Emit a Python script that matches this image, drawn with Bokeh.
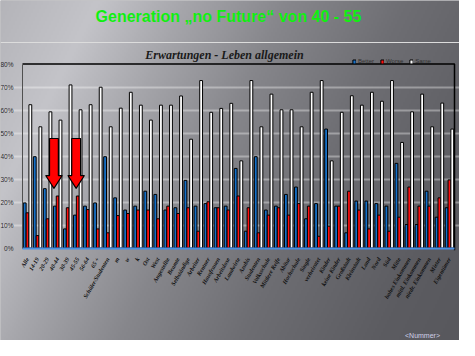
import math
import numpy as np
from bokeh.plotting import figure
from bokeh.models import (Range1d, FixedTicker, NumeralTickFormatter, Label,
                          Legend, LegendItem, ColumnDataSource)
from bokeh.transform import dodge
from bokeh.embed import file_html
from bokeh.resources import INLINE

# ---------------- data ----------------
categories = [
    "Alle", "14-19", "20-29", "40-44", "30-39", "45-55", "56-64", "65 +",
    "Schüler/Studenten", "m", "w", "k", "Ost", "West", "Angestellte",
    "Beamte", "Selbständige", "Arbeiter", "Rentner", "Hausfrauen",
    "Arbeitslose", "Landwirte", "Azubis", "Studenten", "Volksschule",
    "Mittlere Reife", "Abitur", "Hochschule", "Single", "verheiratet",
    "Kinder", "keine Kinder", "Großstadt", "Kleinstadt", "Land", "Nord",
    "Süd", "Mitte", "hohes Einkommen", "mittl. Einkommen",
    "niedr. Einkommen", "Mieter", "Eigentümer",
]
better = [19.6, 39.7, 25.8, 18.2, 8.3, 14.3, 18.2, 19.6, 39.7, 21.8,
          16.5, 18.2, 24.7, 23.3, 16.5, 17.5, 29.4, 18.2, 19.3, 17.5,
          18.2, 34.6, 7.3, 39.7, 16.5, 18.2, 23.3, 26.5, 12.7, 19.3,
          51.7, 18.2, 6.6, 20.4, 20.4, 19.3, 18.2, 36.8, 10.2, 10.2,
          24.7, 13.4, 17.5]
worse = [15.3, 5.4, 12.7, 22.6, 17.5, 22.6, 16.7, 8.3, 6.6, 14.1,
         15.0, 16.5, 16.5, 12.7, 18.2, 15.0, 17.5, 7.3, 20.1, 17.5,
         16.5, 22.6, 17.5, 6.6, 14.3, 17.5, 14.3, 19.3, 18.2, 5.1,
         9.5, 18.2, 24.7, 16.5, 8.3, 14.3, 7.3, 13.4, 26.5, 18.2,
         18.2, 21.8, 29.6]
same = [62.3, 52.7, 59.2, 55.6, 70.9, 60.1, 62.3, 69.9, 52.7, 60.8,
        67.7, 62.1, 55.6, 62.1, 62.1, 66.1, 47.3, 72.8, 59.0, 60.7,
        62.9, 37.9, 72.8, 52.7, 66.9, 60.1, 60.1, 52.7, 67.7, 72.8,
        37.9, 59.0, 66.2, 62.1, 67.7, 63.8, 72.8, 45.9, 59.2, 66.9,
        52.7, 63.0, 51.7]
series_names = ["Better", "Worse", "Same"]
y_ticks = [0, 10, 20, 30, 40, 50, 60, 70, 80]
main_title = "Generation \u201eno Future\u201c von 40 - 55"
chart_title = "Erwartungen - Leben allgemein"
footer_text = "<Nummer>"
arrow_groups = [3, 5]          # groups the red arrows point at

# ---------------- layout (page pixels of the reference) ----------------
W, H = 459, 340
OFF = 8
PLOT_L, PLOT_R = 30.0, 462.0
Y0, YTOP = 255.5, 71.5
N = len(categories)
ppx = (PLOT_R - PLOT_L) / N
ppy = (Y0 - YTOP) / 0.8


def px2x(px):
    return (px - PLOT_L) / ppx


def py2y(py):
    return (Y0 - py) / ppy


x_range = Range1d(px2x(OFF), px2x(OFF + W))
y_range = Range1d(py2y(OFF + H), py2y(OFF))

p = figure(width=W, height=H, x_range=x_range, y_range=y_range,
           output_backend="svg", toolbar_location=None,
           min_border=0, min_border_left=0, min_border_right=0,
           min_border_top=0, min_border_bottom=0)
p.outline_line_color = None
p.background_fill_color = "#8a8a8e"
p.border_fill_color = "#8a8a8e"

# background gradient (slide)
GW, GH = 230, 170
gx = OFF + (np.arange(GW) + 0.5) * W / GW
gy = OFF + H - (np.arange(GH) + 0.5) * H / GH
GX, GY = np.meshgrid(gx, gy)
u = GX + 0.5 * GY
v = np.interp(u, [0, 110, 200, 300, 420, 560, 700],
              [178, 196, 165, 135, 110, 92, 85])
img = np.empty((GH, GW), dtype=np.uint32)
view = img.view(dtype=np.uint8).reshape((GH, GW, 4))
view[..., 0] = v.astype(np.uint8)
view[..., 1] = v.astype(np.uint8)
view[..., 2] = np.clip(v + 5, 0, 255).astype(np.uint8)
view[..., 3] = 255
p.image_rgba(image=[img], x=x_range.start, y=y_range.start,
             dw=x_range.end - x_range.start, dh=y_range.end - y_range.start,
             level="image")

# chart-object border line
p.line(x=[x_range.start, x_range.end], y=[py2y(50), py2y(50)],
       line_color="#dcdcdc", line_width=1)

YMAX = y_ticks[-1] / 100

# grid
p.xgrid.visible = False
p.ygrid.ticker = FixedTicker(ticks=[t / 100 for t in y_ticks[1:-1]])
p.ygrid.bounds = (0, N)
p.ygrid.grid_line_color = "white"
p.ygrid.grid_line_alpha = 0.35
p.ygrid.grid_line_width = 2

# bars
src = ColumnDataSource(dict(
    x=[i + 0.5 for i in range(N)],
    better=[b / 100 for b in better],
    worse=[w / 100 for w in worse],
    same=[s / 100 for s in same],
))
BW = 0.28
rb = p.vbar(x=dodge("x", -BW, range=p.x_range), top="better", bottom=0,
            width=BW, source=src, fill_color="#1670c8", line_color="black",
            line_width=1)
rw = p.vbar(x=dodge("x", 0, range=p.x_range), top="worse", bottom=0,
            width=BW, source=src, fill_color="#ff1010", line_color="black",
            line_width=1)
rs = p.vbar(x=dodge("x", BW, range=p.x_range), top="same", bottom=0,
            width=BW, source=src, fill_color="white", line_color="black",
            line_width=1)

# frame top / right
p.line(x=[0, N, N], y=[YMAX, YMAX, -0.01], line_color="black", line_width=1.5)

# red arrows
arrow_offsets = [-0.37, -0.16]
axs, ays = [], []
for g, off in zip(arrow_groups, arrow_offsets):
    cx = g + 0.5 + off
    sw, hw = 0.44, 0.82
    top, base, tip = 0.476, 0.315, 0.259
    axs.append([cx - sw, cx + sw, cx + sw, cx + hw, cx, cx - hw, cx - sw])
    ays.append([top, top, base, base, tip, base, base])
p.patches(xs=axs, ys=ays, fill_color="#ff0000", line_color="black",
          line_width=1.2)

# axes
p.yaxis.fixed_location = 0
p.yaxis.bounds = (0, YMAX)
p.yaxis.ticker = FixedTicker(ticks=[t / 100 for t in y_ticks])
p.yaxis.formatter = NumeralTickFormatter(format="0%")
p.yaxis.axis_line_color = "#505050"
p.yaxis.major_tick_line_color = None
p.yaxis.minor_tick_line_color = None
p.yaxis.major_label_standoff = 3
p.yaxis.major_label_text_font = "Liberation Sans"
p.yaxis.major_label_text_font_size = "6.5px"
p.yaxis.major_label_text_color = "#2a2a2a"

p.xaxis.fixed_location = 0
p.xaxis.bounds = (0, N)
p.xaxis.ticker = FixedTicker(ticks=[i + 0.5 for i in range(N)])
p.xaxis.major_label_overrides = {i + 0.5: c for i, c in enumerate(categories)}
p.xaxis.major_label_orientation = math.radians(60)
p.xaxis.axis_line_color = "#4a8ee0"
p.xaxis.axis_line_width = 2
p.xaxis.major_tick_line_color = None
p.xaxis.minor_tick_line_color = None
p.xaxis.major_label_standoff = 4
p.xaxis.major_label_text_font = "Liberation Serif"
p.xaxis.major_label_text_font_style = "bold italic"
p.xaxis.major_label_text_font_size = "6px"
p.xaxis.major_label_text_color = "#111111"

# legend
legend = Legend(items=[LegendItem(label=series_names[0], renderers=[rb]),
                       LegendItem(label=series_names[1], renderers=[rw]),
                       LegendItem(label=series_names[2], renderers=[rs])],
                orientation="horizontal", location=(352, 275),
                glyph_width=4, glyph_height=5, label_standoff=2, spacing=6,
                padding=0, margin=0, label_height=8, label_width=0,
                label_text_font="Liberation Sans", label_text_font_size="6px",
                label_text_color="#303030", background_fill_alpha=0,
                border_line_alpha=0)
p.add_layout(legend, "center")

# texts
p.add_layout(Label(x=px2x(236), y=py2y(24), text=main_title,
                   text_align="center", text_baseline="middle",
                   text_font="Liberation Sans", text_font_style="bold",
                   text_font_size="16px", text_color="#10f010"))
p.add_layout(Label(x=px2x(232), y=py2y(62), text=chart_title,
                   text_align="center", text_baseline="middle",
                   text_font="Liberation Serif", text_font_style="bold italic",
                   text_font_size="12px", text_color="#1a1a1a"))
p.add_layout(Label(x=px2x(430), y=py2y(343), text=footer_text,
                   text_align="center", text_baseline="middle",
                   text_font="Liberation Sans", text_font_size="7px",
                   text_color="#d0d0e8"))

open("out.html", "w").write(file_html(p, INLINE))
